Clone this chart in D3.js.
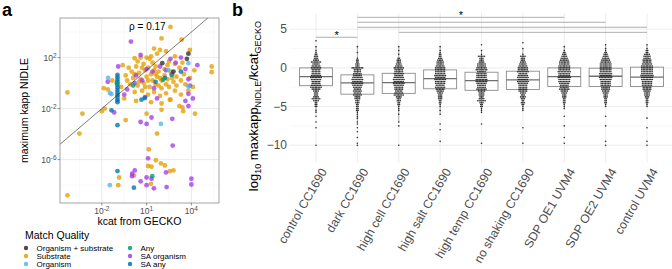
<!DOCTYPE html>
<html>
<head>
<meta charset="utf-8">
<script src="https://cdn.jsdelivr.net/npm/d3@7"></script>
<style>
  body { margin: 0; background: #fff; }
  svg { font-family: "Liberation Sans", Arial, sans-serif; }
</style>
</head>
<body>
<div id="chart"></div>
<script>
// ---- panel a data: [log10 kcat GECKO, log10 max kapp NIDLE] ----
const orgSubstrate = [[3.8, 2.3], [2.05, 1.56], [2.8, 0.9], [3.7, 1.9]];
const substrate = [
  [2.6, 4.4], [2.0, 3.5], [3.35, 3.4], [1.5, 2.7], [1.9, 2.6], [2.3, 2.5], [1.7, 2.3], [3.9, 2.6],
  [2.9, 2.1], [1.3, 2.1], [0.2, 1.95], [0.6, 2.0], [1.0, 2.0], [1.2, 1.9], [0.4, 1.7], [5.36, 1.3],
  [5.36, 0.85], [3.4, 1.6], [-0.6, 1.4], [-0.2, 1.2], [0.3, 1.3], [0.8, 1.5], [1.1, 1.2], [1.6, 1.3],
  [2.4, 1.4], [2.9, 1.5], [3.2, 1.2], [0.0, 0.9], [0.5, 0.8], [0.9, 1.0], [1.3, 0.7], [1.8, 0.9],
  [2.2, 0.6], [2.6, 0.9], [3.0, 0.5], [3.5, 0.7], [3.9, 0.4], [4.2, 1.0], [-0.4, 0.6], [0.1, 0.4],
  [0.6, 0.3], [1.0, 0.5], [1.4, 0.2], [1.7, 0.5], [2.0, 0.2], [2.4, 0.3], [2.8, 0.1], [3.3, 0.2],
  [-0.1, -0.1], [0.4, -0.2], [0.8, 0.0], [1.2, -0.3], [1.6, -0.1], [2.0, -0.4], [2.5, -0.3], [3.0, -0.2],
  [3.6, -0.1], [-1.3, 0.2], [-1.6, -0.5], [-1.87, -0.4], [-0.7, -0.3], [0.2, -0.7], [0.7, -0.6], [1.1, -0.9],
  [1.5, -0.7], [1.9, -1.0], [2.3, -0.8], [2.6, -1.3], [2.9, -0.6], [3.3, -0.9], [3.8, -0.6], [4.1, -0.3],
  [-0.5, -1.2], [0.3, -1.4], [1.3, -1.5], [2.0, -1.6], [3.2, -1.8], [2.0, -2.1], [1.0, -2.4], [3.45, -2.2],
  [2.56, -1.3], [1.5, 1.0], [0.7, 1.2], [1.9, 0.4], [2.2, 1.1], [1.1, 0.2], [0.5, 0.1], [1.4, 1.6],
  [2.7, 0.4], [1.8, -0.2], [0.9, -0.3], [2.3, -0.1], [0.2, 0.7], [-0.3, 0.2], [1.6, 0.7], [2.5, 1.7],
  [-4.3, -0.73], [-3.3, -2.4], [-2.0, -2.2], [-1.8, -2.0], [-0.4, -2.9], [-3.5, -3.96], [1.7, -3.96],
  [3.4, -1.9], [4.24, -2.4], [1.15, -5.2], [1.62, -6.05], [1.96, -6.3], [2.23, -6.46], [1.1, -6.5],
  [1.33, -6.56], [2.56, -6.9], [2.8, -6.85], [0.15, -7.24], [-0.84, -7.4], [-0.9, -8.0], [1.29, -7.9],
  [-4.3, -8.8]
];
const organism = [[1.96, -3.2], [-1.46, -8.0], [-1.58, 0.4], [-1.35, -0.86], [3.8, -0.27], [2.45, 1.04],
  [3.8, 1.56], [-1.46, -0.78]];
const anyMatch = [[1.38, -7.3], [0.1, -0.2], [2.68, 0.65], [-1.0, 0.0], [2.1, 0.26]];
const saOrganism = [
  [-0.05, 3.25], [0.6, 2.2], [-0.9, 1.3], [4.4, 1.4], [2.6, 1.9], [2.95, 1.6], [3.3, 2.0], [1.0, 1.1],
  [0.3, 0.6], [0.7, 0.2], [1.4, 0.9], [1.9, 1.3], [2.3, 1.0], [2.7, 0.7], [3.6, 1.1], [3.8, 0.3],
  [3.9, -0.2], [3.8, -0.84], [4.1, -1.2], [3.6, -1.4], [3.8, -1.8], [1.5, -0.4], [0.2, 0.0], [-0.3, -0.5],
  [-0.5, -0.9], [0.9, -1.1], [1.7, -1.2], [-1.6, 0.1], [0.6, -3.05], [1.0, -3.2], [1.33, -2.7], [2.72, -2.8],
  [2.75, -4.9], [1.1, -5.9], [-1.17, -2.3], [0.21, -6.85], [0.03, -7.1], [0.03, -7.3], [0.6, -7.7],
  [1.0, -7.4], [1.33, -7.5], [1.0, -8.0], [1.49, -8.25], [2.3, -7.0], [2.34, -8.15], [4.0, -7.5], [4.0, -7.95]
];
const saAny = [
  [-0.95, 0.65], [-0.95, 0.45], [-0.95, 0.25], [-0.95, 0.05], [-0.95, -0.15], [-0.95, -0.35], [-0.95, -0.55],
  [-0.95, -0.75], [-0.95, -0.95], [-0.95, -1.15], [-0.95, -1.35], [-0.95, -1.5], [0.66, -1.3], [0.88, -1.17],
  [-0.95, -3.3], [-1.35, -2.14], [-0.95, -6.9], [0.15, -8.2], [2.23, 0.4], [1.6, 0.1], [3.3, 0.9]
];
const qualityNames = ["Organism + substrate", "Substrate", "Organism", "Any", "SA organism", "SA any"];
const qualityColors = ["#2b2b2b", "#E69F00", "#56B4E9", "#009E73", "#A43BEB", "#0072B2"];
const rhoLabel = "ρ =  0.17";
const xTicksA = [-2, 1, 4], yTicksA = [2, -2, -6];

// ---- panel b data: beeswarm rows [log10 ratio, number of dots] ----
const conditions = ["control CC1690", "dark CC1690", "high cell CC1690", "high salt CC1690", "high temp CC1690",
  "no shaking CC1690", "SDP OE1 UVM4", "SDP OE2 UVM4", "control UVM4"];
const swarmControlCC = [[3.5,1],[2.75,1],[2.25,1],[2,1],[1.75,2],[1.5,3],[1.25,3],[1,4],[0.75,7],[0.5,5],[0.25,6],[0,7],
  [-0.25,6],[-0.5,6],[-0.75,6],[-1,7],[-1.25,8],[-1.5,7],[-1.75,6],[-2,6],[-2.25,7],[-2.5,8],[-2.75,6],[-3,4],[-3.25,3],
  [-3.5,3],[-3.75,4],[-4,6],[-4.25,4],[-4.5,2],[-4.75,2],[-5,2],[-5.5,1],[-5.75,1],[-6.25,1],[-7,1],[-7.75,1],[-10,1]];
const swarmDark = [[2.75,1],[2,1],[1.25,1],[1,2],[0.75,2],[0.5,3],[0.25,3],[0,8],[-0.25,5],[-0.5,5],[-0.75,6],[-1,6],
  [-1.25,7],[-1.5,8],[-1.75,7],[-2,8],[-2.25,7],[-2.5,6],[-2.75,5],[-3,6],[-3.25,5],[-3.5,6],[-3.75,4],[-4,4],[-4.25,3],
  [-4.5,3],[-4.75,2],[-5,2],[-5.25,2],[-5.5,2],[-5.75,1],[-6,1],[-6.25,1],[-6.5,1],[-7,1],[-7.25,1],[-7.75,1],[-8.25,1],
  [-9,1],[-9.75,1],[-10,1]];
const swarmHighCell = [[2.75,1],[2.25,1],[1.75,1],[1.25,2],[1,3],[0.75,3],[0.5,4],[0.25,5],[0,7],[-0.25,6],[-0.5,6],
  [-0.75,7],[-1,6],[-1.25,7],[-1.5,8],[-1.75,7],[-2,8],[-2.25,7],[-2.5,6],[-2.75,6],[-3,5],[-3.25,6],[-3.5,7],[-3.75,4],
  [-4,3],[-4.25,3],[-4.5,2],[-4.75,2],[-5,1],[-5.25,1],[-5.5,1],[-6,1],[-7,1],[-7.5,1],[-10,1]];
const swarmHighSalt = [[2.75,1],[2.25,1],[2,1],[1.75,2],[1.5,2],[1.25,3],[1,4],[0.75,5],[0.5,5],[0.25,6],[0,7],[-0.25,7],
  [-0.5,7],[-0.75,7],[-1,8],[-1.25,7],[-1.5,8],[-1.75,7],[-2,7],[-2.25,6],[-2.5,7],[-2.75,6],[-3,5],[-3.25,4],[-3.5,3],
  [-3.75,3],[-4,3],[-4.25,2],[-4.5,2],[-4.75,1],[-5,1],[-5.5,1],[-6,1],[-7.25,1],[-8,1],[-9.5,1]];
const swarmHighTemp = [[3,1],[2.25,1],[1.75,1],[1.5,5],[1.25,3],[1,3],[0.75,4],[0.5,6],[0.25,6],[0,7],[-0.25,8],[-0.5,6],
  [-0.75,7],[-1,7],[-1.25,7],[-1.5,8],[-1.75,8],[-2,7],[-2.25,6],[-2.5,6],[-2.75,7],[-3,5],[-3.25,4],[-3.5,4],[-3.75,3],
  [-4,4],[-4.25,6],[-4.5,3],[-4.75,2],[-5,2],[-5.25,1],[-5.5,1],[-5.75,1],[-7.25,1],[-9.75,1]];
const swarmNoShaking = [[3.25,1],[2.5,1],[1.75,1],[1.5,4],[1.25,3],[1,3],[0.75,4],[0.5,5],[0.25,6],[0,7],[-0.25,7],[-0.5,8],
  [-0.75,6],[-1,7],[-1.25,8],[-1.5,7],[-1.75,8],[-2,7],[-2.25,6],[-2.5,6],[-2.75,6],[-3,6],[-3.25,4],[-3.5,3],[-3.75,4],
  [-4,3],[-4.25,2],[-4.5,3],[-4.75,2],[-5,1],[-5.25,1],[-5.5,1],[-7.75,1],[-9.75,1]];
const swarmOE1 = [[2.75,1],[2.25,1],[2,2],[1.75,3],[1.5,4],[1.25,5],[1,6],[0.75,7],[0.5,7],[0.25,8],[0,8],[-0.25,8],[-0.5,9],
  [-0.75,8],[-1,8],[-1.25,9],[-1.5,8],[-1.75,8],[-2,7],[-2.25,6],[-2.5,6],[-2.75,7],[-3,5],[-3.25,4],[-3.5,3],[-3.75,3],
  [-4,2],[-4.25,2],[-4.5,2],[-4.75,1],[-5,1],[-5.25,1],[-6.25,1],[-7.5,1],[-9,1],[-9.75,1]];
const swarmOE2 = [[3,1],[2.5,1],[2.25,1],[2,2],[1.75,3],[1.5,4],[1.25,5],[1,6],[0.75,7],[0.5,8],[0.25,8],[0,8],[-0.25,8],
  [-0.5,8],[-0.75,9],[-1,8],[-1.25,9],[-1.5,8],[-1.75,7],[-2,7],[-2.25,7],[-2.5,6],[-2.75,6],[-3,5],[-3.25,4],[-3.5,3],
  [-3.75,3],[-4,2],[-4.25,2],[-4.5,2],[-4.75,1],[-5,1],[-6.25,1],[-7.5,1],[-9.5,1],[-10,1]];
const swarmControlUVM = [[3,1],[2.5,1],[2.25,2],[2,2],[1.75,4],[1.5,5],[1.25,5],[1,6],[0.75,6],[0.5,7],[0.25,8],[0,8],
  [-0.25,8],[-0.5,8],[-0.75,8],[-1,9],[-1.25,8],[-1.5,8],[-1.75,7],[-2,7],[-2.25,7],[-2.5,6],[-2.75,6],[-3,5],[-3.25,4],
  [-3.5,4],[-3.75,3],[-4,2],[-4.25,2],[-4.5,2],[-4.75,1],[-5,1],[-6.5,1],[-7.75,1],[-9.5,1],[-10,1]];
const swarms = [swarmControlCC, swarmDark, swarmHighCell, swarmHighSalt, swarmHighTemp, swarmNoShaking,
  swarmOE1, swarmOE2, swarmControlUVM];
const boxQ3 = [0, -0.9, -0.7, -0.26, -0.56, -0.43, 0, -0.04, 0.1];
const boxMedian = [-1.13, -1.95, -1.9, -1.4, -1.65, -1.56, -1.13, -1.08, -1.2];
const boxQ1 = [-2.3, -3.4, -3.3, -2.7, -2.9, -2.8, -2.4, -2.4, -2.4];
const whiskerHi = [2.75, 2.75, 2.75, 2.75, 2.25, 2.5, 2.75, 3, 3];
const whiskerLo = [-5.75, -7, -7, -6, -5.75, -5.5, -5.25, -5, -5];
const yTicksB = [5, 0, -5, -10];
// significance brackets: [from, to, y, label]
const brackets = [
  ["control CC1690", "dark CC1690", 3.96, "*"],
  ["dark CC1690", "SDP OE1 UVM4", 6.54, "*"],
  ["dark CC1690", "SDP OE2 UVM4", 5.9, ""],
  ["dark CC1690", "control UVM4", 5.25, ""],
  ["high cell CC1690", "control UVM4", 4.6, ""]
];

const width = 672, height = 269;
const svg = d3.select("#chart").append("svg").attr("width", width).attr("height", height);

// ================= panel a =================
const pa = {left: 60, right: 219, top: 18, bottom: 203};
const xA = d3.scaleLinear().domain([-4.8, 5.85]).range([pa.left, pa.right]);
const yA = d3.scaleLinear().domain([-9.4, 5.1]).range([pa.bottom, pa.top]);

const gA = svg.append("g");
gA.append("clipPath").attr("id", "clipA").append("rect")
  .attr("x", pa.left).attr("y", pa.top).attr("width", pa.right - pa.left).attr("height", pa.bottom - pa.top);

// grid
const minorX = [-3.5, -0.5, 2.5, 5.5], minorY = [4, 0, -4, -8];
gA.selectAll(".mgx").data(minorX).join("line")
  .attr("x1", d => xA(d)).attr("x2", d => xA(d)).attr("y1", pa.top).attr("y2", pa.bottom)
  .attr("stroke", "#f2f2f2").attr("stroke-width", 0.5);
gA.selectAll(".mgy").data(minorY).join("line")
  .attr("y1", d => yA(d)).attr("y2", d => yA(d)).attr("x1", pa.left).attr("x2", pa.right)
  .attr("stroke", "#f2f2f2").attr("stroke-width", 0.5);
gA.selectAll(".gx").data(xTicksA).join("line")
  .attr("x1", d => xA(d)).attr("x2", d => xA(d)).attr("y1", pa.top).attr("y2", pa.bottom)
  .attr("stroke", "#e6e6e6").attr("stroke-width", 0.8);
gA.selectAll(".gy").data(yTicksA).join("line")
  .attr("y1", d => yA(d)).attr("y2", d => yA(d)).attr("x1", pa.left).attr("x2", pa.right)
  .attr("stroke", "#e6e6e6").attr("stroke-width", 0.8);

// points
const pts = gA.append("g").attr("clip-path", "url(#clipA)");
const layers = [[substrate, 1], [saOrganism, 4], [organism, 2], [saAny, 5], [anyMatch, 3], [orgSubstrate, 0]];
layers.forEach(([arr, k]) => {
  pts.append("g").selectAll("circle").data(arr).join("circle")
    .attr("cx", d => xA(d[0])).attr("cy", d => yA(d[1])).attr("r", 2.4)
    .attr("fill", qualityColors[k]).attr("fill-opacity", 0.78);
});
// identity line
pts.append("line")
  .attr("x1", xA(-10)).attr("y1", yA(-10)).attr("x2", xA(10)).attr("y2", yA(10))
  .attr("stroke", "#222").attr("stroke-width", 0.6);

gA.append("rect").attr("x", pa.left).attr("y", pa.top)
  .attr("width", pa.right - pa.left).attr("height", pa.bottom - pa.top)
  .attr("fill", "none").attr("stroke", "#8c8c8c").attr("stroke-width", 0.8);

gA.append("text").attr("x", xA(1.05)).attr("y", 30).attr("text-anchor", "middle")
  .attr("font-size", 10).text(rhoLabel);

// axis ticks with 10^n labels
const tickA = gA.append("g").attr("fill", "#4d4d4d").attr("font-size", 8.5);
xTicksA.forEach(t => {
  gA.append("line").attr("x1", xA(t)).attr("x2", xA(t)).attr("y1", pa.bottom).attr("y2", pa.bottom + 2.5)
    .attr("stroke", "#4d4d4d").attr("stroke-width", 0.6);
  const tx = tickA.append("text").attr("x", xA(t)).attr("y", pa.bottom + 10.5).attr("text-anchor", "middle");
  tx.append("tspan").text("10");
  tx.append("tspan").attr("dy", "-0.45em").attr("font-size", 6.5).text(t < 0 ? "-" + (-t) : t);
});
yTicksA.forEach(t => {
  gA.append("line").attr("x1", pa.left - 2.5).attr("x2", pa.left).attr("y1", yA(t)).attr("y2", yA(t))
    .attr("stroke", "#4d4d4d").attr("stroke-width", 0.6);
  const tx = tickA.append("text").attr("x", pa.left - 3.5).attr("y", yA(t) + 3).attr("text-anchor", "end");
  tx.append("tspan").text("10");
  tx.append("tspan").attr("dy", "-0.45em").attr("font-size", 6.5).text(t < 0 ? "-" + (-t) : t);
});

gA.append("text").attr("x", (pa.left + pa.right) / 2).attr("y", 225).attr("text-anchor", "middle")
  .attr("font-size", 10.5).text("kcat from GECKO");
gA.append("text").attr("transform", `translate(28,${(pa.top + pa.bottom) / 2}) rotate(-90)`)
  .attr("text-anchor", "middle").attr("font-size", 10.5).text("maximum kapp NIDLE");

// legend
const leg = svg.append("g");
leg.append("text").attr("x", 25).attr("y", 239).attr("font-size", 10.5).text("Match Quality");
qualityNames.forEach((name, i) => {
  const col = Math.floor(i / 3), row = i % 3;
  const lx = col === 0 ? 26 : 130, ly = 248 + row * 8;
  leg.append("circle").attr("cx", lx).attr("cy", ly).attr("r", 2.2)
    .attr("fill", qualityColors[i]).attr("fill-opacity", 0.85);
  leg.append("text").attr("x", lx + 10.5).attr("y", ly + 2.8).attr("font-size", 8).text(name);
});

svg.append("text").attr("x", 2).attr("y", 16).attr("font-size", 18).attr("font-weight", "bold").text("a");

// ================= panel b =================
const pb = {left: 290, right: 672, top: 13, bottom: 163};
const xB = d3.scalePoint().domain(conditions).range([316, 647]);
const yB = d3.scaleLinear().domain([-12.3, 7.1]).range([pb.bottom, pb.top]);
const gB = svg.append("g");

const minorB = [7.5, 2.5, -2.5, -7.5];
gB.selectAll(".mb").data(minorB.filter(d => yB(d) > pb.top)).join("line")
  .attr("x1", pb.left).attr("x2", pb.right).attr("y1", d => yB(d)).attr("y2", d => yB(d))
  .attr("stroke", "#f2f2f2").attr("stroke-width", 0.5);
gB.selectAll(".gyb").data(yTicksB).join("line")
  .attr("x1", pb.left).attr("x2", pb.right).attr("y1", d => yB(d)).attr("y2", d => yB(d))
  .attr("stroke", "#e8e8e8").attr("stroke-width", 0.8);
gB.selectAll(".gxb").data(conditions).join("line")
  .attr("x1", d => xB(d)).attr("x2", d => xB(d)).attr("y1", pb.top).attr("y2", pb.bottom)
  .attr("stroke", "#e8e8e8").attr("stroke-width", 0.8);

const boxW = 33;
conditions.forEach((c, i) => {
  const cx = xB(c);
  const g = gB.append("g");
  g.append("line").attr("x1", cx).attr("x2", cx).attr("y1", yB(whiskerHi[i])).attr("y2", yB(boxQ3[i]))
    .attr("stroke", "#8c8c8c").attr("stroke-width", 0.7);
  g.append("line").attr("x1", cx).attr("x2", cx).attr("y1", yB(boxQ1[i])).attr("y2", yB(whiskerLo[i]))
    .attr("stroke", "#8c8c8c").attr("stroke-width", 0.7);
  g.append("rect").attr("x", cx - boxW / 2).attr("y", yB(boxQ3[i]))
    .attr("width", boxW).attr("height", yB(boxQ1[i]) - yB(boxQ3[i]))
    .attr("fill", "none").attr("stroke", "#8c8c8c").attr("stroke-width", 0.9);
  g.append("line").attr("x1", cx - boxW / 2).attr("x2", cx + boxW / 2)
    .attr("y1", yB(boxMedian[i])).attr("y2", yB(boxMedian[i]))
    .attr("stroke", "#6e6e6e").attr("stroke-width", 1.3);
  // beeswarm dots
  const dots = [];
  swarms[i].forEach(([v, n]) => {
    for (let k = 0; k < n; k++) dots.push([cx + (k - (n - 1) / 2) * 1.5, yB(v)]);
  });
  g.append("g").selectAll("circle").data(dots).join("circle")
    .attr("cx", d => d[0]).attr("cy", d => d[1]).attr("r", 0.8)
    .attr("fill", "#111").attr("fill-opacity", 0.85);
});

// significance brackets
brackets.forEach(([a, b, v, lab]) => {
  gB.append("line").attr("x1", xB(a)).attr("x2", xB(b)).attr("y1", yB(v)).attr("y2", yB(v))
    .attr("stroke", "#9a9a9a").attr("stroke-width", 0.8);
  if (lab) gB.append("text").attr("x", (xB(a) + xB(b)) / 2).attr("y", yB(v) + 1.5)
    .attr("text-anchor", "middle").attr("font-size", 11).text(lab);
});

gB.append("g").selectAll("text").data(yTicksB).join("text")
  .attr("x", 287).attr("y", d => yB(d) + 4).attr("text-anchor", "end")
  .attr("font-size", 12).attr("fill", "#4d4d4d").text(d => d < 0 ? "\u2212" + (-d) : d);

gB.append("g").selectAll("text").data(conditions).join("text")
  .attr("transform", d => `translate(${xB(d) + 4},${pb.bottom + 4}) rotate(-60)`)
  .attr("text-anchor", "end").attr("dy", "0.7em")
  .attr("font-size", 12.2).attr("fill", "#4d4d4d").text(d => d);

const yt = gB.append("text").attr("transform", "translate(258,106) rotate(-90)")
  .attr("text-anchor", "middle").attr("font-size", 13);
yt.append("tspan").text("log");
yt.append("tspan").attr("font-size", 9).attr("dy", 3).text("10");
yt.append("tspan").attr("dy", -3).text(" maxkapp");
yt.append("tspan").attr("font-size", 9).attr("dy", 3).text("NIDLE");
yt.append("tspan").attr("dy", -3).text("/kcat");
yt.append("tspan").attr("font-size", 9).attr("dy", 3).text("GECKO");

svg.append("text").attr("x", 232).attr("y", 16).attr("font-size", 18).attr("font-weight", "bold").text("b");
</script>
</body>
</html>
